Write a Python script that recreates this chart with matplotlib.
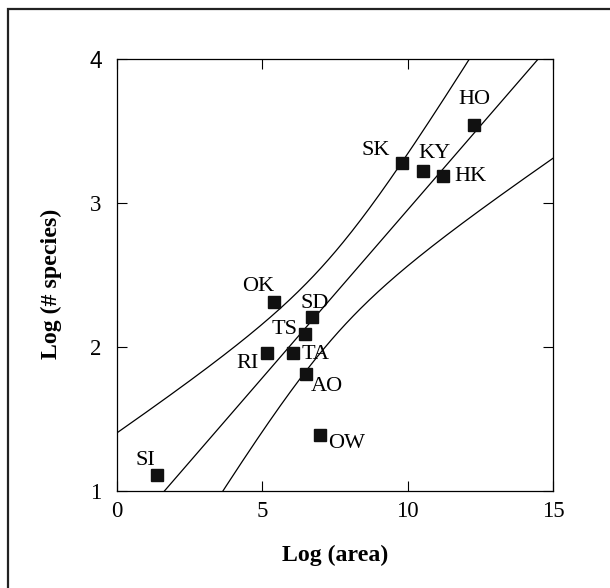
import numpy as np
import matplotlib
matplotlib.use('Agg')
import matplotlib.pyplot as plt

# sites, log(area), log(# species)
sites = ['HO', 'SK', 'KY', 'HK', 'OK', 'SD', 'TS', 'RI', 'TA', 'AO', 'OW', 'SI']
log_area = [12.29, 9.80, 10.54, 11.20, 5.40, 6.72, 6.47, 5.16, 6.05, 6.49, 6.98, 1.36]
log_species = [3.54, 3.28, 3.22, 3.19, 2.31, 2.21, 2.09, 1.96, 1.96, 1.81, 1.39, 1.11]
x_ticks = [0, 5, 10, 15]
y_ticks = [1, 2, 3, 4]

# label offsets in pixels
offsets = [(0, 26), (-26, 12), (11, 18), (28, -1), (-16, 16), (2, 13),
           (-20, 5), (-19, -11), (23, -2), (21, -12), (27, -9), (-11, 15)]

plt.rcParams['font.family'] = ['Liberation Serif', 'DejaVu Serif']

x = np.array(log_area)
y = np.array(log_species)
n = len(x)
slope, intercept = np.polyfit(x, y, 1)
resid = y - (slope * x + intercept)
s = np.sqrt(np.sum(resid ** 2) / (n - 2))
sxx = np.sum((x - x.mean()) ** 2)
t_val = 2.85  # band multiplier matching the figure

xs = np.linspace(0, 15, 300)
fit = slope * xs + intercept
half = t_val * s * np.sqrt(1 / n + (xs - x.mean()) ** 2 / sxx)

fig = plt.figure(figsize=(6.1, 5.88), dpi=100)
ax = fig.add_axes([117 / 610, 1 - 491 / 588, 436 / 610, 432 / 588])

ax.plot(xs, fit, color='black', lw=0.9)
ax.plot(xs, fit + half, color='black', lw=0.9)
ax.plot(xs, fit - half, color='black', lw=0.9)
ax.plot(x, y, 's', color='#111111', markersize=8.3, linestyle='none')

for name, xi, yi, (dx, dy) in zip(sites, x, y, offsets):
    ax.annotate(name, (xi, yi), xytext=(dx, dy), textcoords='offset pixels',
                ha='center', va='center', fontsize=16)

ax.set_xlim(0, 15)
ax.set_ylim(1, 4)
ax.set_xticks(x_ticks)
ax.set_yticks(y_ticks)
ax.tick_params(direction='in', top=True, right=True, length=7, width=0.8,
               labelsize=16.5)
ax.tick_params(axis='x', pad=7.5)
ax.tick_params(axis='y', pad=11)
for sp in ax.spines.values():
    sp.set_linewidth(0.9)

# the top y tick label is set in a sans face in the original
for lbl in ax.get_yticklabels():
    if lbl.get_text() == '4':
        lbl.set_family('Liberation Sans')

ax.set_xlabel('Log (area)', fontsize=17.2, fontweight='bold')
ax.set_ylabel('Log (# species)', fontsize=17.2, fontweight='bold')
ax.xaxis.set_label_coords(0.5, -0.125)
ax.yaxis.set_label_coords(-0.127, 0.48)

frame = plt.Rectangle((8 / 610, -0.1), 1.0, 1.1 - 9 / 588, transform=fig.transFigure,
                      fill=False, lw=1.6, edgecolor='#222222')
fig.patches.append(frame)

fig.savefig('out.png', dpi=100)
